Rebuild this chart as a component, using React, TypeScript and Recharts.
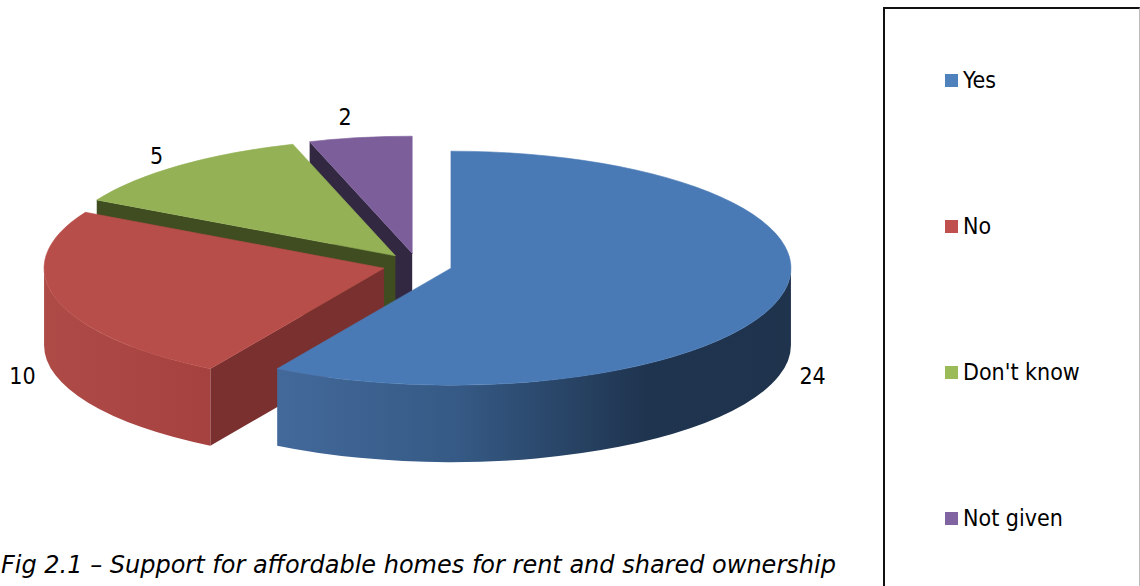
import { Legend, Pie, PieChart } from "recharts";

const categories = ["Yes", "No", "Don't know", "Not given"];
const responses = [24, 10, 5, 2];
const swatchColors = ["#4f81bd", "#c0504d", "#9bbb59", "#8064a2"];
const topColors = ["#4a7ab5", "#b84e4a", "#94b155", "#7c5e9a"];
const cutColors = ["#1f344f", "#7a302e", "#3f4d20", "#332842"];
const wallStops = [
  ["#43699b", "#355a85", "#1f344f", "#1f334d"],
  ["#ae4b47", "#ab4744", "#a84441", "#a5423f"],
  ["#3f4d20", "#3f4d20", "#3f4d20", "#3f4d20"],
  ["#332842", "#332842", "#332842", "#332842"],
];
const caption = "Fig 2.1 – Support for affordable homes for rent and shared ownership";

const WIDTH = 1140;
const HEIGHT = 586;
const SQUASH = 117 / 340;
const DEPTH = 77;
const EXPLODE = 0.102;
const FONT = "'DejaVu Sans Condensed', 'DejaVu Sans', sans-serif";

// drawn back to front, so the list runs the other way round the pie
const slices = categories
  .map((name, i) => ({
    name,
    value: responses[i],
    fill: swatchColors[i],
    top: topColors[i],
    cut: cutColors[i],
    stops: wallStops[i],
  }))
  .reverse();

const rad = (a: number) => (a * Math.PI) / 180;

const Slice3D = (props: any) => {
  const { cx, cy, outerRadius: r, startAngle, endAngle, payload } = props;
  const item = payload ?? props;
  const mid = (startAngle + endAngle) / 2;
  const ox = cx + r * EXPLODE * Math.cos(rad(mid));
  const oy = cy - r * EXPLODE * SQUASH * Math.sin(rad(mid));
  const pt = (a: number, drop = 0) => ({
    x: ox + r * Math.cos(rad(a)),
    y: oy - r * SQUASH * Math.sin(rad(a)) + drop,
  });
  const arc = (a0: number, a1: number, drop = 0) => {
    // sweep 0 = counter-clockwise on screen, which is growing angle here
    const p = pt(a1, drop);
    const large = Math.abs(a1 - a0) > 180 ? 1 : 0;
    const sweep = a1 > a0 ? 0 : 1;
    return `A${r} ${r * SQUASH} 0 ${large} ${sweep} ${p.x} ${p.y}`;
  };

  const s = pt(startAngle);
  const topPath = `M${ox} ${oy}L${s.x} ${s.y}${arc(startAngle, endAngle)}Z`;

  const cutFace = (a: number, normal: number) => {
    if (Math.sin(rad(normal)) > -0.01) return null;
    const p = pt(a);
    return (
      <path
        d={`M${ox} ${oy}L${p.x} ${p.y}L${p.x} ${p.y + DEPTH}L${ox} ${oy + DEPTH}Z`}
        fill={item.cut}
      />
    );
  };

  // the outer wall only shows on the front half of the ellipse
  const w0 = Math.max(startAngle, 180);
  const w1 = Math.min(endAngle, 360);
  const gradId = `wall-${item.name.replace(/\W/g, "")}`;
  let wall = null;
  if (w1 > w0) {
    const a = pt(w0);
    const b = pt(w1, DEPTH);
    wall = (
      <>
        <defs>
          <linearGradient id={gradId} x1="0" y1="0" x2="1" y2="0">
            <stop offset="0" stopColor={item.stops[0]} />
            <stop offset="0.35" stopColor={item.stops[1]} />
            <stop offset="0.72" stopColor={item.stops[2]} />
            <stop offset="1" stopColor={item.stops[3]} />
          </linearGradient>
        </defs>
        <path
          d={`M${a.x} ${a.y}${arc(w0, w1)}L${b.x} ${b.y}${arc(w1, w0, DEPTH)}Z`}
          fill={`url(#${gradId})`}
        />
      </>
    );
  }

  return (
    <g>
      {cutFace(startAngle, startAngle - 90)}
      {cutFace(endAngle, endAngle + 90)}
      {wall}
      {/* thin stroke hides the light seam between top and wall */}
      <path d={topPath} fill={item.top} stroke={item.top} strokeWidth={0.6} />
    </g>
  );
};

const labelNudge: Record<string, [number, number]> = {
  "Don't know": [-1, -1],
  "Not given": [-10, -9],
  No: [-1, -3],
  Yes: [1, -3],
};

const renderLabel = (props: any) => {
  const { cx, cy, midAngle, outerRadius: r, value, name } = props;
  const c = Math.cos(rad(midAngle));
  const sn = Math.sin(rad(midAngle));
  const [nx, ny] = labelNudge[name] ?? [0, 0];
  const x = cx + r * (EXPLODE + 1.1) * c + nx;
  const y = cy - r * (EXPLODE + 1.1) * SQUASH * sn + (sn < 0 ? DEPTH : 0) + ny;
  return (
    <text
      x={x}
      y={y}
      textAnchor="middle"
      dominantBaseline="central"
      fontFamily={FONT}
      fontSize={23}
      fill="#000"
    >
      {value}
    </text>
  );
};

const LegendBox = ({ payload }: any) => (
  <div
    style={{
      boxSizing: "border-box",
      width: 257,
      height: 590,
      borderLeft: "2px solid #111",
      borderTop: "2px solid #111",
      borderRight: "1px solid #bbb",
      position: "relative",
    }}
  >
    {[...(payload ?? [])].reverse().map((entry: any, i: number) => (
      <div
        key={entry.value}
        style={{
          position: "absolute",
          left: 60,
          top: 56 + i * 146,
          display: "flex",
          alignItems: "center",
          height: 30,
          fontFamily: FONT,
          fontSize: 23,
          color: "#000",
          whiteSpace: "nowrap",
        }}
      >
        <span
          style={{
            width: 13,
            height: 13,
            marginRight: 5,
            background: entry.color,
            display: "inline-block",
          }}
        />
        {entry.value}
      </div>
    ))}
  </div>
);

export default function App() {
  return (
    <div
      style={{
        position: "absolute",
        left: 0,
        top: 0,
        width: WIDTH,
        height: HEIGHT,
        overflow: "hidden",
        background: "#fff",
      }}
    >
      <PieChart width={WIDTH} height={HEIGHT} margin={{ top: 0, right: 0, bottom: 0, left: 0 }}>
        <Pie
          data={slices}
          dataKey="value"
          nameKey="name"
          cx={417.5}
          cy={265}
          innerRadius={0}
          outerRadius={340}
          startAngle={90}
          endAngle={450}
          stroke="none"
          legendType="square"
          shape={Slice3D}
          label={renderLabel}
          labelLine={false}
          isAnimationActive={false}
        />
        <Legend
          content={LegendBox}
          itemSorter={null}
          wrapperStyle={{ left: 883, top: 7, width: 257, height: 590, bottom: "auto" }}
        />
      </PieChart>
      <div
        style={{
          position: "absolute",
          left: 1,
          top: 551,
          fontFamily: "'DejaVu Sans', sans-serif",
          fontStyle: "italic",
          fontSize: 24,
          color: "#000",
          whiteSpace: "nowrap",
        }}
      >
        {caption}
      </div>
    </div>
  );
}
